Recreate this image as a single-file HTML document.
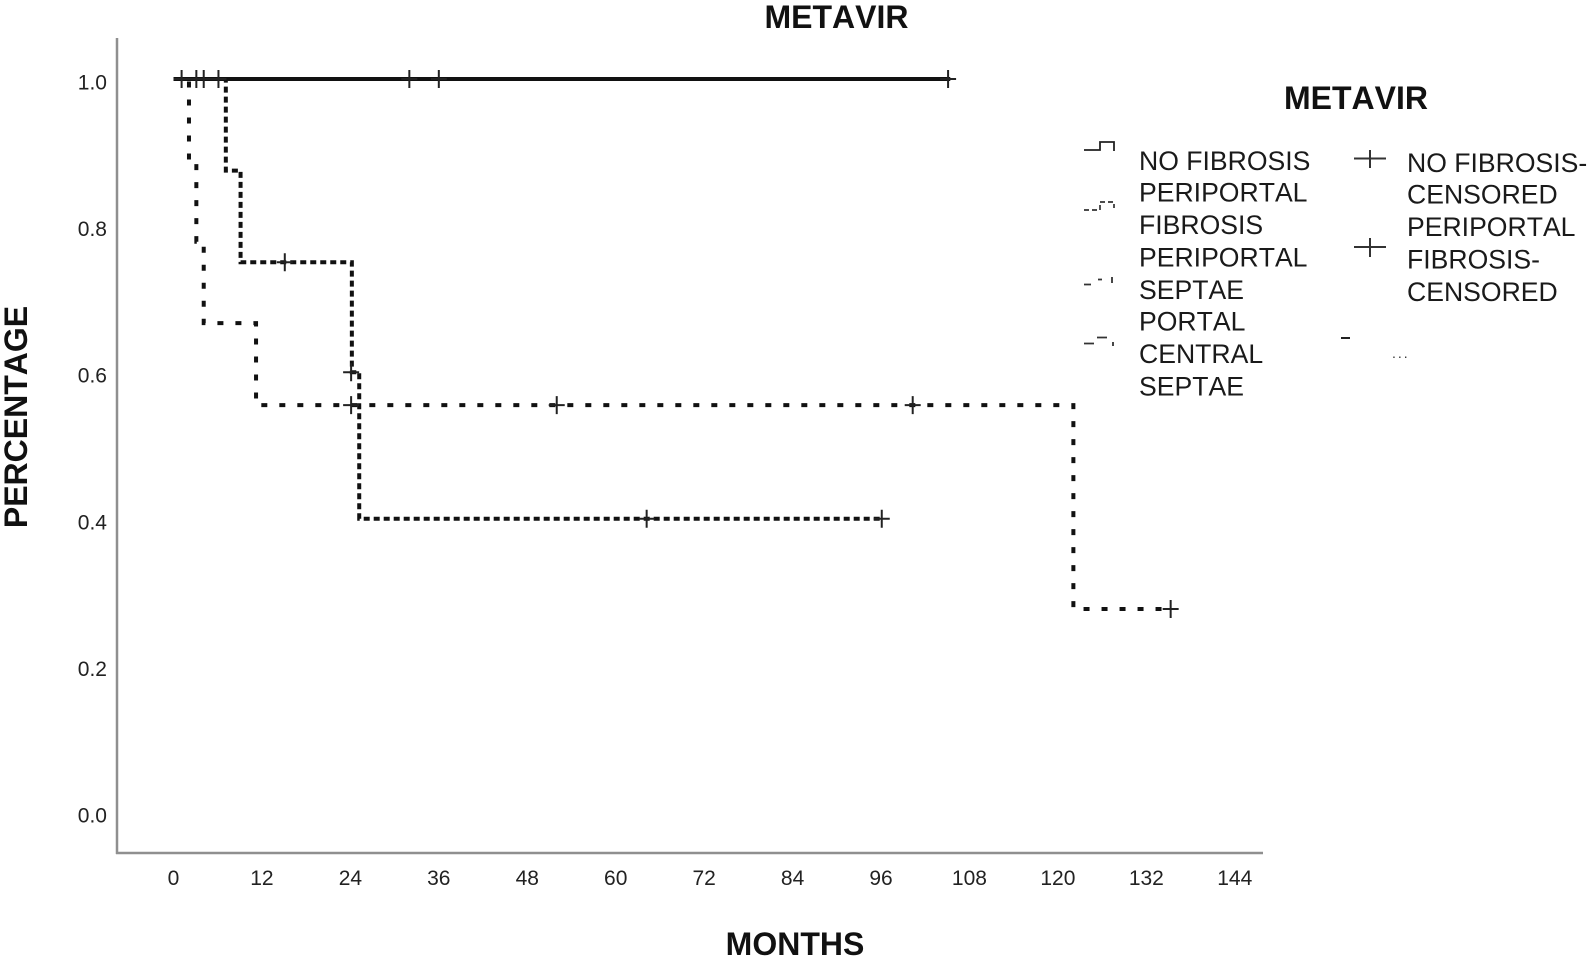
<!DOCTYPE html>
<html lang="en">
<head>
<meta charset="utf-8">
<title>METAVIR survival chart</title>
<style>
html,body{margin:0;padding:0;background:#fff;}
svg{display:block;font-family:"Liberation Sans",Arial,sans-serif;font-kerning:none;}
.tick{font-size:21px;fill:#222;}
.legend-text{font-size:26.6px;fill:#1a1a1a;}
.title{font-size:32px;font-weight:bold;fill:#111;}
</style>
</head>
<body>
<svg id="chart" xmlns="http://www.w3.org/2000/svg" width="1591" height="960" viewBox="0 0 1591 960">
  <text class="title" x="836.500" y="28" text-anchor="middle">METAVIR</text>
  <text class="title" x="795" y="955" text-anchor="middle">MONTHS</text>
  <text class="title" text-anchor="middle" transform="translate(27,417) rotate(-90)">PERCENTAGE</text>

  <line x1="117" y1="38" x2="117" y2="854" stroke="#8f8f8f" stroke-width="2.5"/>
  <line x1="116" y1="853" x2="1263" y2="853" stroke="#8f8f8f" stroke-width="2.5"/>
  <g id="ticks"></g>
  <g id="plot"></g>

  <g>
    <text class="title" x="1356" y="109" text-anchor="middle">METAVIR</text>

    <path d="M1084 150H1100V142H1114V151" fill="none" stroke="#222" stroke-width="1.8"/>
    <path d="M1084 210H1100V202H1114V208" fill="none" stroke="#333" stroke-width="1.7" stroke-dasharray="5 3"/>
    <path d="M1084 284.500H1091M1098 279.500H1102M1112 277V283" fill="none" stroke="#333" stroke-width="1.8"/>
    <path d="M1084 343.500H1094M1097 337.500H1107M1113 342V346" fill="none" stroke="#333" stroke-width="1.8"/>

    <g class="legend-text">
      <text x="1139" y="170">NO FIBROSIS</text>
      <text x="1139" y="201.500">PERIPORTAL</text>
      <text x="1139" y="234">FIBROSIS</text>
      <text x="1139" y="266.500">PERIPORTAL</text>
      <text x="1139" y="299">SEPTAE</text>
      <text x="1139" y="330.500">PORTAL</text>
      <text x="1139" y="363">CENTRAL</text>
      <text x="1139" y="395.500">SEPTAE</text>
    </g>

    <path d="M1354 158.500H1386M1370 150V168" fill="none" stroke="#333" stroke-width="2"/>
    <path d="M1354 247H1386M1370 238V257" fill="none" stroke="#333" stroke-width="2"/>
    <line x1="1341" y1="338" x2="1350" y2="338" stroke="#222" stroke-width="2"/>

    <g class="legend-text">
      <text x="1407" y="172">NO FIBROSIS-</text>
      <text x="1407" y="203.500">CENSORED</text>
      <text x="1407" y="236">PERIPORTAL</text>
      <text x="1407" y="268.500">FIBROSIS-</text>
      <text x="1407" y="301">CENSORED</text>
    </g>
    <text x="1392" y="358" font-size="14" fill="#333" letter-spacing="2">...</text>
  </g>
</svg>
<script>
var xTickLabels = [0, 12, 24, 36, 48, 60, 72, 84, 96, 108, 120, 132, 144];
var yTickLabels = ["0.0", "0.2", "0.4", "0.6", "0.8", "1.0"];
var yTickValues = [0, 0.2, 0.4, 0.6, 0.8, 1];

var noFibrosisTimes = [0, 105.4];
var noFibrosisSurvival = [1, 1];
var noFibrosisCensoredTimes = [1.1, 3.1, 4.1, 6.1, 32, 36, 105.1];

var fibrosisTimes = [0, 7.1, 9.1, 24.2, 25.2, 96.1];
var fibrosisSurvival = [1, 0.875, 0.75, 0.6, 0.4, 0.4];
var fibrosisCensoredTimes = [15.1, 24.1, 64.2, 96.1];
var fibrosisCensoredSurvival = [0.75, 0.6, 0.4, 0.4];

var septaeTimes = [0, 2.1, 3.1, 4.1, 11.2, 122.1, 135.3];
var septaeSurvival = [1, 0.889, 0.778, 0.667, 0.555, 0.277, 0.277];
var septaeCensoredTimes = [24.1, 52, 100.3, 135.3];
var septaeCensoredSurvival = [0.555, 0.555, 0.555, 0.277];

var SVGNS = "http://www.w3.org/2000/svg";
function xScale(month) { return 173.5 + 7.37 * month; }
function yScale(value) { return 79 + (1 - value) * 733; }

var plot = document.getElementById("plot");
var ticks = document.getElementById("ticks");

function stepPath(times, values) {
  var d = "M" + xScale(times[0]) + " " + yScale(values[0]);
  for (var i = 1; i < times.length; i++) {
    d += "H" + xScale(times[i]) + "V" + yScale(values[i]);
  }
  return d;
}

function drawSeries(name, times, values, width, dash) {
  var p = document.createElementNS(SVGNS, "path");
  p.setAttribute("d", stepPath(times, values));
  p.setAttribute("fill", "none");
  p.setAttribute("stroke", "#111");
  p.setAttribute("stroke-width", width);
  if (dash) p.setAttribute("stroke-dasharray", dash);
  
  
  plot.appendChild(p);
}

function drawCensor(name, month, value) {
  var cx = xScale(month), cy = yScale(value);
  var c = document.createElementNS(SVGNS, "path");
  c.setAttribute("d", "M" + (cx - 8) + " " + cy + "H" + (cx + 8) + "M" + cx + " " + (cy - 9) + "V" + (cy + 9));
  c.setAttribute("fill", "none");
  c.setAttribute("stroke", "#222");
  c.setAttribute("stroke-width", "2");
  
  
  plot.appendChild(c);
}

xTickLabels.forEach(function (label) {
  var t = document.createElementNS(SVGNS, "text");
  t.setAttribute("class", "tick");
  t.setAttribute("x", xScale(label));
  t.setAttribute("y", 885);
  t.setAttribute("text-anchor", "middle");
  
  
  t.textContent = label;
  ticks.appendChild(t);
});

yTickLabels.forEach(function (label, i) {
  var t = document.createElementNS(SVGNS, "text");
  t.setAttribute("class", "tick");
  t.setAttribute("x", 107);
  t.setAttribute("y", yScale(yTickValues[i]) + 10.5);
  t.setAttribute("text-anchor", "end");
  
  
  t.textContent = label;
  ticks.appendChild(t);
});

drawSeries("series-periportal-septae", septaeTimes, septaeSurvival, 4, "6 12");
drawSeries("series-periportal-fibrosis", fibrosisTimes, fibrosisSurvival, 4, "6 4");
drawSeries("series-no-fibrosis", noFibrosisTimes, noFibrosisSurvival, 4, null);

noFibrosisCensoredTimes.forEach(function (t) {
  drawCensor("censor-no-fibrosis", t, 1);
});
fibrosisCensoredTimes.forEach(function (t, i) {
  drawCensor("censor-periportal-fibrosis", t, fibrosisCensoredSurvival[i]);
});
septaeCensoredTimes.forEach(function (t, i) {
  drawCensor("censor-periportal-septae", t, septaeCensoredSurvival[i]);
});
</script>
</body>
</html>
